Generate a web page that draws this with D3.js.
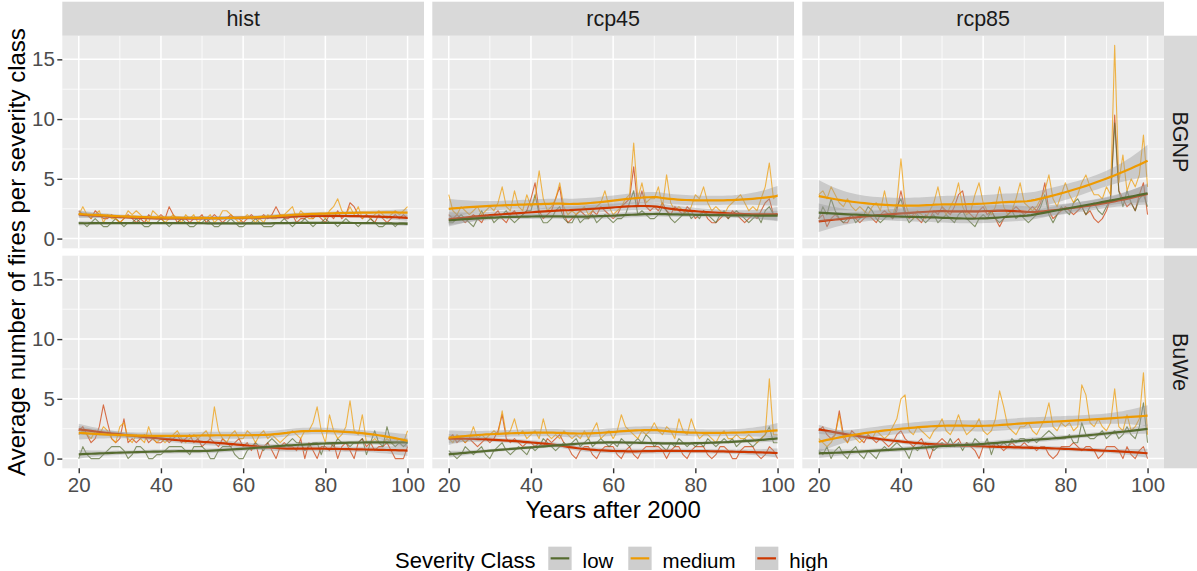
<!DOCTYPE html>
<html>
<head>
<meta charset="utf-8">
<script src="https://cdn.jsdelivr.net/npm/d3@7"></script>
<style>
  html, body { margin: 0; padding: 0; background: #ffffff; }
  svg { display: block; font-family: "Liberation Sans", Arial, sans-serif; }
</style>
</head>
<body>
<svg id="chart" width="1197" height="571"></svg>
<script>
// ---- categories and ticks ----
const yearsAfter2000 = d3.range(20, 101);
const scenarios = ["hist", "rcp45", "rcp85"];
const regions = ["BGNP", "BuWe"];
const severityClasses = ["low", "medium", "high"];
const severityColors = ["#556B2F", "#EE9A00", "#CD3700"];
const xTickValues = [20, 40, 60, 80, 100];
const yTickValues = [0, 5, 10, 15];

// ---- average number of fires per year (years 20..100) ----
const histBGNPLow = [1.33,1.33,1,1.33,1.67,1.33,1,1,1.33,1.67,
  1.33,1,1.33,1.33,1.67,1.33,1,1,1.33,1.33,
  1.67,1.33,1,1.33,1.33,1.67,1.33,1,1,1.33,
  1.33,1.67,1.33,1,1,1.33,1.33,1.67,1.33,1,
  1,1.33,1.33,1.67,1.33,1,1,1,1.33,1.33,
  1.67,1.33,1,1.33,1.33,1.67,1.33,1,1.33,1.33,
  1.67,1.33,1.33,1,1.33,1.67,1.33,1.33,1,1.33,
  1.33,1.67,1.33,1,1,1.33,1.33,1,1.33,1.33,
  1.33];
const histBGNPMedium = [2,2.67,2,1.67,2,2.33,1.33,2,1.67,1.67,
  1.33,1.67,2.33,2,2.33,2,1.67,1.33,2.33,2,
  1.67,1.33,1.67,2,1.67,1.33,2,1.67,2,1.33,
  1.67,1.67,2,1.33,1.67,2.33,2.33,2,1.67,1.33,
  1.67,2,1.67,1.33,1.67,1.33,2,1.67,1.67,2,
  2,2.33,2.67,1.67,2.33,2,1.67,1.67,2,2,
  1.67,2.33,2.67,3.33,2.33,2,2.67,2,2.67,1.67,
  2,1.67,2,2.33,2,1.67,2,2.33,2,2.33,
  2.67];
const histBGNPHigh = [2.33,2,2,1.67,2.33,2,1.67,1.67,2,1.67,
  1.33,1.67,2,1.67,1.33,1.67,1.33,2,1.67,1.67,
  2,1.67,2.67,2,1.33,1.67,1.67,1.33,1.67,1.67,
  2,1.33,1.67,2,1.67,1.33,1.67,2,1.67,1.67,
  1.33,1.67,2,1.67,1.67,2,1.67,2,2.67,2,
  1.67,1.67,2,1.33,1.67,1.67,2,1.67,2,1.67,
  1.33,2,1.67,2.33,1.67,2,3,2.67,2,1.67,
  2,1.67,1.33,2,1.67,1.33,1.67,2,1.67,2,
  1.67];

const rcp45BGNPLow = [1.33,1.33,1.67,2,1.67,1.33,1,1.67,2.33,1.67,
  2,1.33,1.67,2,2.33,1.67,1.33,1.67,2,2.33,
  2.33,3.67,2,1.33,1.33,1.67,2.33,2.67,1.67,1.33,
  1.33,2,1.33,1.67,1.67,2,1.33,1.67,2,1.67,
  1.33,1.67,1.67,2,3,4,2,2.33,2,1.67,
  1.67,2,2.67,2.33,1.67,1.33,1.67,2,2.33,1.67,
  2,1.67,2.33,2,1.67,1.33,2,2.33,1.67,2,
  2.33,2,1.67,1.33,1.67,2,1.33,2.33,2.67,2,
  2];
const rcp45BGNPMedium = [3.67,2.33,2,2.67,2.33,2,2.33,2.67,2,2.33,
  2.67,2.33,3,4.33,2.67,2.33,4,2.67,2.33,3.67,
  2.67,3.33,5.67,3.33,2.33,2.67,3.33,4.67,2.67,2,
  2.33,2,2.33,2.67,2,2.33,2.67,3,4,2.67,
  2,2.33,2.67,3.33,3.67,8,3.33,4.67,3,3.33,
  3.33,4.33,2.67,5.33,3,2.33,2.67,2.33,2,2.67,
  3.67,3.33,4.33,3,2.33,2.67,2.33,2,2.67,3,
  3.33,3.67,3,2.33,2.67,2.33,3.33,4.33,6.33,3.33,
  3.67];
const rcp45BGNPHigh = [2,1.67,2,1.67,1.33,1.67,2,1.67,1.33,2,
  1.67,2,2.33,1.67,1.33,2,2.33,1.67,2,2.33,
  3.33,4.67,2.33,1.67,2,2.33,3.33,4.33,2,1.33,
  1.67,2,2.33,2,1.67,2.33,2,2.67,2.33,2,
  1.67,2,2.67,3,3.33,6,2.67,4,2.67,2.33,
  2.67,2.33,3,2.33,2,2.67,2.33,2,2.67,2.33,
  1.67,2,2.33,1.67,1.33,1.33,1.67,2,1.67,2.33,
  2,1.67,1.33,1.67,2,1.67,2.33,3,3.33,2,
  2];

const rcp85BGNPLow = [1.67,2.67,2,3.33,2.33,1.67,1.33,1.67,2,1.33,
  1.67,2,2.67,2.33,1.67,1.33,1.67,2,1.67,2.67,
  3.33,2,1.33,1.67,2,1.67,1.33,1.67,2,1.33,
  1.67,2,1.67,1.33,2,2.33,1.67,1.33,1,1.67,
  2,1.67,2.33,1.67,1.33,1.67,2,2.33,1.67,2,
  1.67,1.33,1.67,2,2.67,3.67,2,1.33,2,2.67,
  2.33,2,3,3.33,2.67,2,2.67,3,2.33,2,
  2.67,3.33,9.67,4,2.67,4,3,2.33,3.33,3.67,
  2.67];
const rcp85BGNPMedium = [3.67,4,3.33,4.33,3.67,3,2.67,3.33,2.67,2.33,
  2.67,2.33,2,2.67,3,2.33,4,2.33,2,3,
  6.67,3,2,1.67,2.33,2,1.67,2.33,3,4.33,
  2.67,2,2.67,3.33,4.67,2.67,2,2.33,3.67,4.67,
  3,2.33,2,2.67,4.33,2.67,2,2.33,3.33,4.67,
  3,2.67,2.33,2.67,3.33,4,5.33,3.33,2.67,3.67,
  4.67,3.67,3,3.67,4.67,5.33,4.33,3.67,3.67,3.33,
  4.33,3.67,16.17,4.67,7,4,5,4.33,5.33,8.67,
  4.33];
const rcp85BGNPHigh = [1.67,2,1,1.67,2,1.67,1.33,1.33,2,1.67,
  1.33,1.67,2,1.67,1.33,2,2.33,2,1.67,2.33,
  4,2.33,1.67,2,1.67,1.33,2,1.67,2.33,2,
  2.67,2.33,2,2.67,3.67,4,2.33,2,1.67,2.33,
  2.67,2,2.33,1.67,1,1.67,2,2.33,2.67,2.33,
  2,2.33,2.67,2.33,3,4.67,2.33,1.67,2,2.33,
  2.67,2.33,2,2.33,2.67,2,2.33,1.67,1.33,1.67,
  2.33,3.33,10.33,4,3.33,2.67,3,2.33,3.67,4.67,
  2];

const histBuWeLow = [0,1,0.33,0,0,0,0.33,0.67,1,1,
  1,0.67,0,0.33,1,1,0.67,0,0,0.33,
  0.33,0.67,1,1,1,1,0.67,0.33,1,1,
  1,0.67,0,0,0.67,1,1,1,0.33,0,
  0,0.67,1,1.33,1,0.67,1.33,1.67,1.33,1,
  1,1.33,1.67,1.33,1.33,0.67,1,1.33,1.33,0.33,
  1.33,1.33,1,1.67,1.33,1.33,1,1.33,1.33,1.67,
  0.33,1.33,2.33,1.33,1,2.67,1.33,1,1.33,1,
  1.33];
const histBuWeMedium = [2,2.33,2,1.67,2.33,2,2.67,2.33,1.67,1.33,
  2.67,3,1.67,1.33,2,1.67,1.33,2.67,1.67,1.33,
  1.67,1.33,1.67,2,2.33,1.67,1.33,1.67,2,1.67,
  2,2.33,1.67,4.33,2.33,1.67,1.33,2,2.33,1.67,
  1.67,2.33,2,1.33,2,2.33,1.67,2,1.67,1.33,
  1.67,2,2.33,2,1.67,2.33,2.33,3,4.33,2.33,
  1.33,3.67,2.33,1.67,2,2.67,4.83,2.33,2,3.67,
  1.33,1.33,1.67,1.33,1.33,1.67,1.33,1.33,1.67,1.33,
  2.33];
const histBuWeHigh = [2.33,2.67,2,1.33,1.67,2.67,4.5,3,1.67,1.33,
  1.67,3.33,1.33,1.67,1.33,1.67,2,1.33,1.67,1.33,
  1.33,1.67,1.33,1.67,2,1.33,1.67,2,1.33,1.67,
  1,1.33,1.67,1.33,1,1.67,1.33,1,1.33,1.67,
  1,1.33,0.67,1.33,0,1,1.33,0.67,0,1,
  1.33,1,1,0.67,1.67,0,1.33,0.67,0,1,
  1,0.67,1.33,0,1,1.33,0.67,0,1.33,1.67,
  1,1.33,0.67,1,1,1.33,0.67,0,0,0,
  1];

const rcp45BuWeLow = [0.67,0.33,0,0.33,1,0.67,0.33,0.67,1,0.33,
  0,0.67,1,1.33,0.67,0.33,0.67,1,0.67,0.33,
  1,0.67,1,1.67,1.33,1,0.67,1,1.33,1,
  1.33,1.67,1,1.33,1.67,1,1.33,1.67,1.33,1,
  1.33,1,1.67,1.33,1,1.33,1.67,1.33,2,1.67,
  1,1.33,1,0.67,1.33,1,1.67,1.33,1,1.33,
  1,1.33,1,1.67,1.33,1,1.33,1.67,1.33,1.67,
  1,1.33,1.67,1.33,1,1.33,1.67,2,2.67,1.33,
  1.33];
const rcp45BuWeMedium = [1.67,1.33,2,1.67,1.33,1.67,2.67,1.67,2,1.67,
  2,2.33,2,4,2,2.33,3.33,2,2.33,1.67,
  2,2.33,1.67,3.33,2,1.67,2,1.67,2.33,2,
  1.67,2,1.67,2.33,1.67,2.33,3,1.67,2,2.33,
  1.67,2.33,3.67,2.67,2.33,2,1.67,2.33,2,2.33,
  3,2.33,2,2.67,2.33,1.67,3.33,2.33,2,3.33,
  2.33,1.67,2,2,1.67,1.33,2,2.33,1.67,1.67,
  2,1.67,1.67,2,1.67,1.33,1.67,2,6.67,2,
  2];
const rcp45BuWeHigh = [1.67,2,1.33,1.67,1.33,1.67,1.33,1,1.33,1.67,
  1.33,1.67,2.33,3.67,1.67,1.33,1.67,1.33,1,1.33,
  1.33,1,1.33,1,1.67,1.33,1.67,2,1.33,1,
  0.33,0,0.67,1,1,0.33,0,0.67,1,1,
  1,0.33,0,0.67,1,0.33,0,0.67,1,1,
  1,1,0.67,0,0.67,1,1,0.33,0,0.67,
  1,1,1,0.33,0,0.33,1,1,0.67,0,
  0,0.67,1,1,1,0.33,0,0.33,1,0.67,
  0];

const rcp85BuWeLow = [0.67,0.33,1,0,0.67,1,0.33,0,0.67,1,
  0.33,0,0.67,0.33,0,0.67,1,0.67,1,1.33,
  1,0.67,0,1,0.67,1,1.33,1,0.67,1,
  1.33,1,1.67,1,1.33,0.67,1.33,1,1.67,1.33,
  1,1.67,0.33,1.33,1,1.33,1,1.67,1.33,1.67,
  1.67,1.33,1.67,1.33,1.67,2,2.33,2,1.67,1.67,
  1.67,2,1.33,1.33,3,2,1.67,1.67,2,2.33,
  1.67,2,2.33,1.67,2,2.67,2,1.67,2.67,4.67,
  1.33];
const rcp85BuWeMedium = [1.67,1.33,1,1.33,2,3.67,1.67,1.33,2,1.67,
  1.33,1.67,2,1.67,2.33,2,1.67,2,2.67,3.33,
  5,5.33,2.33,2,2.67,2.33,2,1.67,2.33,2.67,
  3.33,2.33,2,2.67,3.67,2.67,2,2.33,2.67,3.33,
  2.33,2,2.33,3.33,5.67,4.33,2.67,2.33,2,2.67,
  2.67,3,2.33,2,2.67,3.33,4.67,2.67,2.33,3,
  2.67,3,2.33,2.67,6.17,5.33,3,2.67,3.33,2.67,
  2.33,3,5.83,2.67,2.33,3.67,2.33,2.67,3.33,7.17,
  2];
const rcp85BuWeHigh = [2.33,2.67,2,1.67,2,4,2,1.33,2.33,2,
  1.67,1.33,2,1.67,1.33,1.67,1.33,1,1.33,2,
  2.33,1.67,1.33,1,1.33,1.67,1,0,1,1.33,
  1.67,1.33,1,1.33,1.67,1,1.33,1,0.67,0,
  1,1.33,1,1.33,1,0.67,1,1.33,1,1,
  1.33,1,1,0.67,1,1,0.33,0,0.33,1,
  1,1,1.33,1,0.67,1,1,0.67,0,0.33,
  1,1,1,0.67,0,1,0.33,0,0.67,1,
  0];

// lookup: scenario -> region -> [low, medium, high]
const seriesTable = {
  hist:  { BGNP: [histBGNPLow, histBGNPMedium, histBGNPHigh],
           BuWe: [histBuWeLow, histBuWeMedium, histBuWeHigh] },
  rcp45: { BGNP: [rcp45BGNPLow, rcp45BGNPMedium, rcp45BGNPHigh],
           BuWe: [rcp45BuWeLow, rcp45BuWeMedium, rcp45BuWeHigh] },
  rcp85: { BGNP: [rcp85BGNPLow, rcp85BGNPMedium, rcp85BGNPHigh],
           BuWe: [rcp85BuWeLow, rcp85BuWeMedium, rcp85BuWeHigh] }
};

// groups are drawn in alphabetical order of the class name (high, low, medium)
const groupOrder = severityClasses.map((c, i) => i).sort((a, b) =>
  d3.ascending(severityClasses[a], severityClasses[b]));

// ---- local quadratic regression (loess, span 0.75) with 95% band ----
function solve3(A, b) {
  const M = A.map((r, i) => r.concat([b[i]]));
  for (let c = 0; c < 3; c++) {
    let p = c;
    for (let r = c + 1; r < 3; r++) if (Math.abs(M[r][c]) > Math.abs(M[p][c])) p = r;
    [M[c], M[p]] = [M[p], M[c]];
    for (let r = 0; r < 3; r++) {
      if (r === c) continue;
      const f = M[r][c] / M[c][c];
      for (let k = c; k < 4; k++) M[r][k] -= f * M[c][k];
    }
  }
  return [M[0][3] / M[0][0], M[1][3] / M[1][1], M[2][3] / M[2][2]];
}

function qt975(df) {
  const z = 1.959964;
  const z3 = z * z * z, z5 = z3 * z * z, z7 = z5 * z * z;
  return z + (z3 + z) / (4 * df) + (5 * z5 + 16 * z3 + 3 * z) / (96 * df * df)
    + (3 * z7 + 19 * z5 + 17 * z3 - 15 * z) / (384 * df * df * df);
}

function loessSmooth(xs, ys, span = 0.75, nOut = 80) {
  const n = xs.length;
  const q = Math.floor(n * span);
  const operatorRow = x0 => {
    const d = xs.map(v => Math.abs(v - x0));
    const h = d.slice().sort((a, b) => a - b)[q - 1];
    const w = d.map(v => { const u = v / h; return u < 1 ? Math.pow(1 - u * u * u, 3) : 0; });
    const s = [0, 0, 0, 0, 0];
    xs.forEach((x, i) => {
      const dx = x - x0; let p = w[i];
      for (let k = 0; k < 5; k++) { s[k] += p; p *= dx; }
    });
    const c = solve3([[s[0], s[1], s[2]], [s[1], s[2], s[3]], [s[2], s[3], s[4]]], [1, 0, 0]);
    return xs.map((x, i) => { const dx = x - x0; return w[i] * (c[0] + c[1] * dx + c[2] * dx * dx); });
  };
  const L = xs.map(operatorRow);
  const fitted = L.map(r => d3.sum(r, (l, j) => l * ys[j]));
  const rss = d3.sum(ys, (y, i) => (y - fitted[i]) ** 2);
  // B = I - L ; M = B'B
  const B = L.map((r, i) => r.map((l, j) => (i === j ? 1 : 0) - l));
  let one = 0, two = 0;
  for (let j = 0; j < n; j++) {
    for (let k = 0; k < n; k++) {
      let m = 0;
      for (let i = 0; i < n; i++) m += B[i][j] * B[i][k];
      if (j === k) one += m;
      two += m * m;
    }
  }
  const sigma = Math.sqrt(rss / one);
  const tval = qt975(one * one / two);
  const [lo, hi] = d3.extent(xs);
  return d3.range(nOut).map(i => {
    const x0 = lo + (hi - lo) * i / (nOut - 1);
    const r = operatorRow(x0);
    const fit = d3.sum(r, (l, j) => l * ys[j]);
    const se = sigma * Math.sqrt(d3.sum(r, l => l * l));
    return { x: x0, fit, ymin: fit - tval * se, ymax: fit + tval * se };
  });
}

// ---- build panel data ----
const panels = [];
regions.forEach((region, ri) => {
  scenarios.forEach((scen, ci) => {
    const vals = seriesTable[scen][region];
    const groups = vals.map((v, k) => ({
      k,
      raw: yearsAfter2000.map((yr, i) => ({ x: yr, y: v[i] })),
      smooth: loessSmooth(yearsAfter2000, v)
    }));
    panels.push({ region, scen, ri, ci, groups });
  });
});

// ---- shared scales (5% expansion, like ggplot) ----
const allY = [];
panels.forEach(p => p.groups.forEach(g => {
  g.raw.forEach(d => allY.push(d.y));
  g.smooth.forEach(d => { allY.push(d.ymin, d.ymax); });
}));
const expand = ([a, b]) => [a - 0.05 * (b - a), b + 0.05 * (b - a)];

const panelLeft = [62.3, 432.3, 802.3];
const panelTop = [35.7, 255.7];
const panelW = 361.7, panelH = 212.6;

const x = d3.scaleLinear().domain(expand(d3.extent(yearsAfter2000))).range([0, panelW]);
const y = d3.scaleLinear().domain(expand(d3.extent(allY))).range([panelH, 0]);

const svg = d3.select("#chart");
svg.append("rect").attr("width", 1197).attr("height", 571).attr("fill", "#ffffff");

const mid = arr => d3.pairs(arr).map(([a, b]) => (a + b) / 2);
const xMinor = mid(xTickValues);
const yMinor = mid(yTickValues).concat([yTickValues[yTickValues.length - 1] + 2.5])
  .filter(v => v >= y.domain()[0] && v <= y.domain()[1]);

const rawLine = d3.line().x(d => x(d.x)).y(d => y(d.y));
const fitLine = d3.line().x(d => x(d.x)).y(d => y(d.fit));
const band = d3.area().x(d => x(d.x)).y0(d => y(d.ymin)).y1(d => y(d.ymax));

panels.forEach(p => {
  const g = svg.append("g")
    .attr("transform", `translate(${panelLeft[p.ci]},${panelTop[p.ri]})`);
  g.append("rect").attr("width", panelW).attr("height", panelH).attr("fill", "#EBEBEB");

  // minor grid
  g.selectAll(".vminor").data(xMinor).join("line")
    .attr("x1", d => x(d)).attr("x2", d => x(d)).attr("y1", 0).attr("y2", panelH)
    .attr("stroke", "#ffffff").attr("stroke-width", 0.75);
  g.selectAll(".hminor").data(yMinor).join("line")
    .attr("x1", 0).attr("x2", panelW).attr("y1", d => y(d)).attr("y2", d => y(d))
    .attr("stroke", "#ffffff").attr("stroke-width", 0.75);
  // major grid
  g.selectAll(".vmajor").data(xTickValues).join("line")
    .attr("x1", d => x(d)).attr("x2", d => x(d)).attr("y1", 0).attr("y2", panelH)
    .attr("stroke", "#ffffff").attr("stroke-width", 1.5);
  g.selectAll(".hmajor").data(yTickValues).join("line")
    .attr("x1", 0).attr("x2", panelW).attr("y1", d => y(d)).attr("y2", d => y(d))
    .attr("stroke", "#ffffff").attr("stroke-width", 1.5);

  // yearly values
  groupOrder.forEach(k => {
    g.append("path").datum(p.groups[k].raw)
      .attr("d", rawLine).attr("fill", "none")
      .attr("stroke", severityColors[k]).attr("stroke-width", 1.1)
      .attr("stroke-opacity", 0.7).attr("stroke-linejoin", "round");
  });
  // smoothed trend with confidence band
  groupOrder.forEach(k => {
    g.append("path").datum(p.groups[k].smooth)
      .attr("d", band).attr("fill", "#999999").attr("fill-opacity", 0.4);
    g.append("path").datum(p.groups[k].smooth)
      .attr("d", fitLine).attr("fill", "none")
      .attr("stroke", severityColors[k]).attr("stroke-width", 2.2);
  });
});

// ---- strips ----
scenarios.forEach((s, ci) => {
  svg.append("rect").attr("x", panelLeft[ci]).attr("y", 1.7)
    .attr("width", panelW).attr("height", 34).attr("fill", "#D9D9D9");
  svg.append("text").attr("x", panelLeft[ci] + panelW / 2).attr("y", 26)
    .attr("text-anchor", "middle").attr("font-size", 21.5).attr("fill", "#1A1A1A").text(s);
});
regions.forEach((r, ri) => {
  const cy = panelTop[ri] + panelH / 2;
  svg.append("rect").attr("x", 1164).attr("y", panelTop[ri])
    .attr("width", 33).attr("height", panelH).attr("fill", "#D9D9D9");
  svg.append("text").attr("transform", `translate(1173,${cy}) rotate(90)`)
    .attr("text-anchor", "middle").attr("font-size", 21.5).attr("fill", "#1A1A1A").text(r);
});

// ---- axes ----
const styleAxis = sel => {
  sel.select(".domain").remove();
  sel.selectAll(".tick line").attr("stroke", "#333333").attr("stroke-width", 1.4);
  sel.selectAll(".tick text").attr("fill", "#4D4D4D").attr("font-size", 20.5)
    .attr("font-family", "Liberation Sans, Arial, sans-serif");
};
regions.forEach((r, ri) => {
  svg.append("g").attr("transform", `translate(${panelLeft[0]},${panelTop[ri]})`)
    .call(d3.axisLeft(y).tickValues(yTickValues).tickSize(5).tickPadding(2.5)
      .tickFormat(d3.format("d")))
    .call(styleAxis);
});
scenarios.forEach((s, ci) => {
  svg.append("g").attr("transform", `translate(${panelLeft[ci]},${panelTop[1] + panelH})`)
    .call(d3.axisBottom(x).tickValues(xTickValues).tickSize(5).tickPadding(4.5)
      .tickFormat(d3.format("d")))
    .call(styleAxis);
});

// ---- axis titles ----
svg.append("text").attr("x", (panelLeft[0] + 1164) / 2).attr("y", 518)
  .attr("text-anchor", "middle").attr("font-size", 24).attr("fill", "#000")
  .text("Years after 2000");
svg.append("text")
  .attr("transform", `translate(25,${(panelTop[0] + panelTop[1] + panelH) / 2}) rotate(-90)`)
  .attr("text-anchor", "middle").attr("font-size", 24).attr("fill", "#000")
  .text("Average number of fires per severity class");

// ---- legend ----
const legend = svg.append("g");
legend.append("text").attr("x", 395).attr("y", 567.5)
  .attr("font-size", 22).attr("fill", "#000").text("Severity Class");
const keyX = [548.3, 628.3, 755];
const keySize = 23.3, keyTop = 546.7;
severityClasses.forEach((c, k) => {
  const kx = keyX[k];
  legend.append("rect").attr("x", kx).attr("y", keyTop).attr("width", keySize).attr("height", keySize)
    .attr("fill", "#F2F2F2");
  legend.append("rect").attr("x", kx).attr("y", keyTop).attr("width", keySize).attr("height", keySize)
    .attr("fill", "#999999").attr("fill-opacity", 0.4);
  legend.append("line")
    .attr("x1", kx + keySize * 0.1).attr("x2", kx + keySize * 0.9)
    .attr("y1", keyTop + keySize / 2).attr("y2", keyTop + keySize / 2)
    .attr("stroke", severityColors[k]).attr("stroke-width", 2.2);
  legend.append("text").attr("x", kx + keySize + 11).attr("y", 567.5)
    .attr("font-size", 20.5).attr("fill", "#000").text(c);
});
</script>
</body>
</html>
